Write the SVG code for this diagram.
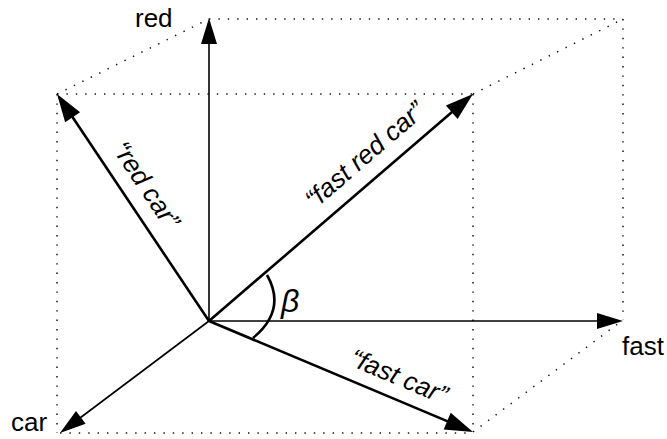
<svg xmlns="http://www.w3.org/2000/svg" width="667" height="439" viewBox="0 0 667 439">
<style>
.dot{fill:none;stroke:#111;stroke-width:1.5;stroke-dasharray:1.4 8;stroke-linecap:butt}
.axis{fill:none;stroke:#000;stroke-width:1.6}
.vec{fill:none;stroke:#000;stroke-width:2.6}
.lbl{font-family:"Liberation Sans",Arial,sans-serif;font-size:26px;fill:#000}
.ital{font-family:"Liberation Sans",Arial,sans-serif;font-size:26px;font-style:italic;fill:#000}
</style>
<defs>
<marker id="ah" markerUnits="userSpaceOnUse" markerWidth="26" markerHeight="16" refX="16" refY="8" orient="auto" overflow="visible">
<path d="M0,0 L26,8 L0,16 z" fill="#000"/>
</marker>
<marker id="vh" markerUnits="userSpaceOnUse" markerWidth="28" markerHeight="18" refX="18" refY="9" orient="auto" overflow="visible">
<path d="M0,0 L28,9 L0,18 z" fill="#000"/>
</marker>
</defs>
<rect width="667" height="439" fill="#fff"/>
<g id="box">
<line class="dot" x1="209" y1="19" x2="623" y2="19"/>
<line class="dot" x1="623" y1="19" x2="623" y2="320"/>
<line class="dot" x1="473" y1="94" x2="623" y2="19"/>
<line class="dot" x1="57" y1="94" x2="209" y2="19"/>
<line class="dot" x1="57" y1="94" x2="473" y2="94"/>
<line class="dot" x1="57" y1="94" x2="57" y2="433"/>
<line class="dot" x1="473" y1="94" x2="473" y2="432"/>
<line class="dot" x1="60" y1="433" x2="473" y2="433"/>
<line class="dot" x1="473" y1="432" x2="623" y2="320"/>
</g>
<g id="connectors">
<line id="axis-red" class="axis" x1="209" y1="321" x2="209" y2="28" marker-end="url(#ah)"/>
<line id="axis-fast" class="axis" x1="209" y1="321" x2="613" y2="321" marker-end="url(#ah)"/>
<line id="axis-car" class="axis" x1="209" y1="321" x2="68" y2="427" marker-end="url(#ah)"/>
<line id="vec-redcar" class="vec" x1="209" y1="321" x2="62.6" y2="102.3" marker-end="url(#vh)"/>
<line id="vec-fastredcar" class="vec" x1="209" y1="321" x2="465.4" y2="100.5" marker-end="url(#vh)"/>
<line id="vec-fastcar" class="vec" x1="209" y1="321" x2="463.8" y2="428.1" marker-end="url(#vh)"/>
<path id="angle" d="M267,275 Q287,310 253,338" fill="none" stroke="#000" stroke-width="2.6"/>
</g>
<g id="label-red"><text class="lbl" x="135" y="27">red</text></g>
<g id="label-fast"><text class="lbl" x="622" y="355">fast</text></g>
<g id="label-car"><text class="lbl" x="11" y="431">car</text></g>
<g id="label-beta"><text class="ital" x="281" y="312" style="font-size:32px">β</text></g>
<g id="label-fastredcar"><text class="ital" text-anchor="middle" transform="translate(370.5,161.5) rotate(-40.7)">“fast red car”</text></g>
<g id="label-redcar"><text class="ital" text-anchor="middle" transform="translate(139,190) rotate(56.2)">“red car”</text></g>
<g id="label-fastcar"><text class="ital" text-anchor="middle" transform="translate(395.5,384.5) rotate(22.8)">“fast car”</text></g>
</svg>
